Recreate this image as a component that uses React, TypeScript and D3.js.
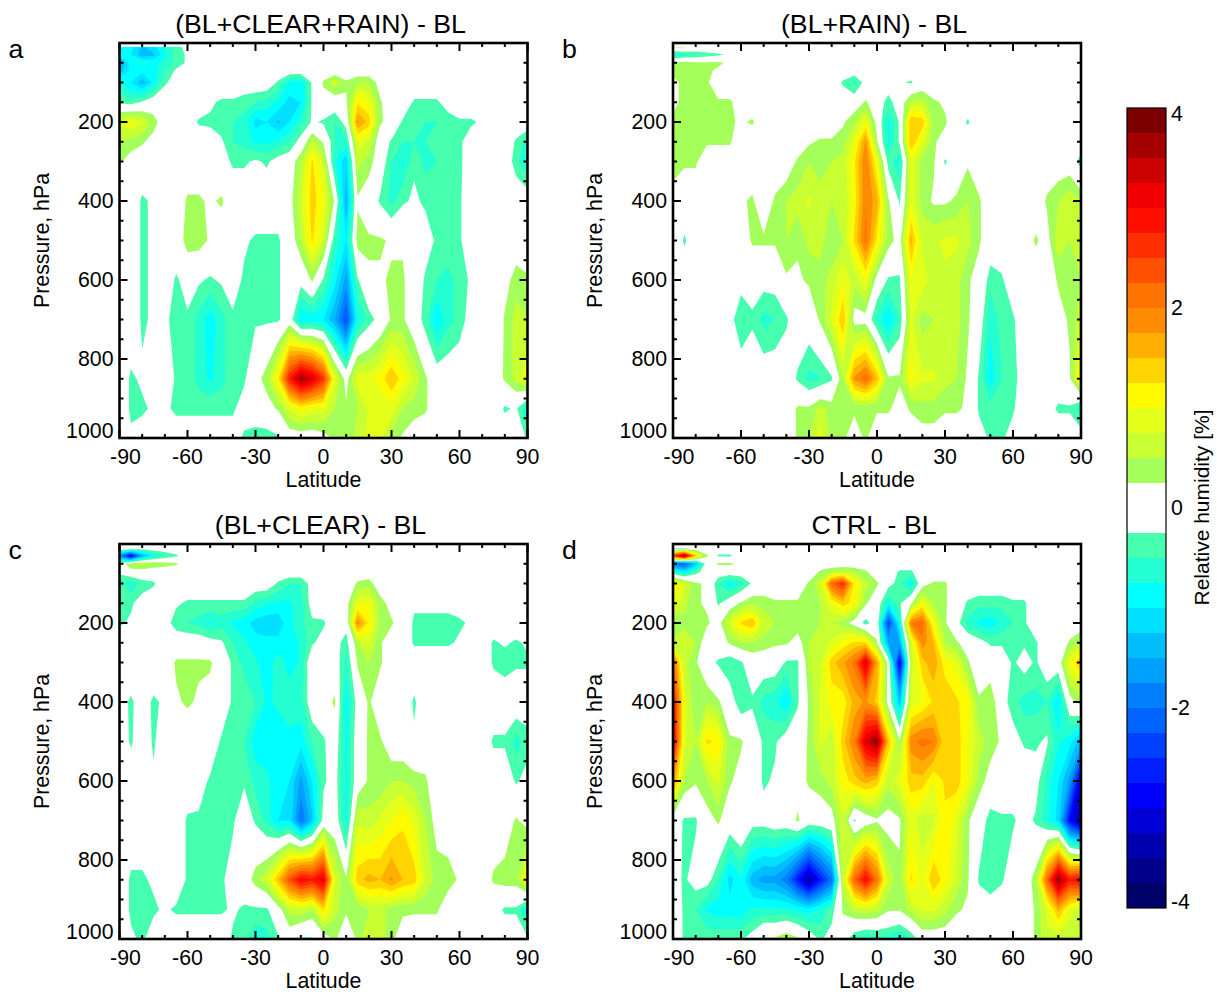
import { contours, geoPath, geoTransform, range, scaleLinear } from "d3";

// grid of the zonal means: 5 degree columns, standard pressure levels
const latitudes = range(-90, 91, 5);
const pressureLevels = [10, 30, 50, 70, 100, 150, 200, 250, 300, 400, 500, 600, 700, 850, 925, 1000];

// values are tenths of a percent, one row per pressure level
const panelA = [
	[-7,-9,-13,-11,-7,-4, -1,0,0,0,0,0, 0,0,0,0,0,0, 0,0,0,0,0,0, 0,0,0,0,0,0, 0,0,0,0,0,0, 0],
	[-8,-10,-14,-13,-8,-4, -2,0,0,0,0,0, 0,0,0,0,0,0, 0,0,0,0,0,0, 0,0,0,0,0,0, 0,0,0,0,0,0, 0],
	[-17,-8,-7,-8,-7,-4, -2,0,0,0,0,0, 0,0,0,0,0,0, 0,0,0,0,0,0, 0,0,0,0,0,0, 0,0,0,0,0,0, 0],
	[-14,-9,-9,-9,-5,-2, 0,0,0,0,0,0, 0,0,0,0,0,0, 0,0,0,0,0,0, 0,0,0,0,0,0, 0,0,0,0,0,0, 0],
	[-7,-10,-14,-9,-3,-1, 0,0,0,0,0,0, 0,0,-3,-8,-9,-2, 3,7,3,5,5,1, 0,0,0,0,0,0, 0,0,0,0,0,0, 0],
	[-3,-4,-2,0,0,0, 0,0,-2,-3,-3,-4, -5,-6,-8,-11,-10,-2, 1,0,2,12,10,3, 0,0,-3,-3,-3,-1, 0,0,0,0,0,0, 0],
	[8,10,8,4,0,0, 0,-3,-3,-4,-5,-6, -11,-10,-13,-10,-6,-2, -3,-5,-1,18,14,3, 1,-3,-4,-5,-5,-4, -3,-3,-2,0,0,0, 0],
	[5,4,3,1,0,0, 0,0,-1,-2,-5,-6, -8,-8,-7,-5,-1,6, 2,-5,-6,9,7,0, -3,-5,-5,-5,-4,-3, -3,-1,0,0,0,-3, -6],
	[3,1,0,0,0,0, 0,0,0,-1,-3,-3, -2,-3,-1,0,5,13, 7,-7,-12,6,4,0, -5,-8,-3,-6,-5,-3, -3,-1,0,0,0,-4, -8],
	[0,0,-3,-2,0,0, 3,3,2,3,0,0, 0,0,0,1,7,14, 10,2,-15,2,0,-3, -6,-3,-2,-3,-3,-3, -3,0,0,2,0,0, 0],
	[3,0,-3,-2,0,0, 4,4,2,0,0,-2, -3,-3,-3,0,5,13, 7,-5,-10,4,3,3, 2,2,0,-1,-3,-3, -3,0,0,0,0,0, 0],
	[0,0,-3,-2,0,-3, -1,-2,-3,-2,-1,-3, -3,-3,-3,0,-1,3, -3,-9,-16,-3,2,2, 3,3,0,-3,-5,-6, -4,-2,0,0,1,4, 3],
	[0,0,-3,-2,-1,-5, -3,-6,-9,-6,-3,-3, -3,-3,-3,0,-10,-9, -10,-15,-23,-8,-4,-1, 3,3,0,-4,-10,-6, -4,-1,0,-2,3,6, 5],
	[0,-3,-2,0,0,-3, -3,-6,-8,-6,-3,-3, 1,4,12,28,37,33, 26,9,1,9,9,11, 15,11,7,3,0,0, 0,0,0,0,3,6, 10],
	[0,-3,-3,-2,-2,-3, -3,-3,-3,-3,-3,-1, 0,1,3,8,11,9, 9,5,3,5,8,8, 9,5,4,3,0,0, 0,0,0,0,-3,-2, -8],
	[0,-2,-1,0,-1,-1, -1,-1,-1,-1,-1,-3, -4,-4,-3,0,0,0, 1,3,3,6,8,8, 4,2,0,0,0,0, 0,0,0,0,0,0, -3],
];

const panelB = [
	[3,3,1,1,0,0, 0,0,0,0,0,0, 0,0,0,0,0,0, 0,0,0,0,0,0, 0,0,0,0,0,0, 0,0,0,0,0,0, 0],
	[-8,-6,-5,-4,-3,-2, 0,0,0,0,0,0, 0,0,0,0,0,0, 0,0,0,0,0,0, 0,0,0,0,0,0, 0,0,0,0,0,0, 0],
	[3,4,3,3,3,2, 0,0,0,0,0,0, 0,0,0,0,0,0, 0,0,0,0,0,0, 0,0,0,0,0,0, 0,0,0,0,0,0, 0],
	[3,5,3,3,2,0, 0,0,0,0,0,0, 0,0,0,0,0,0, 0,0,0,0,0,0, 0,0,0,0,0,0, 0,0,0,0,0,0, 0],
	[2,3,3,3,0,0, 0,0,0,0,0,0, 0,0,0,-3,-6,-1, 0,0,-2,-3,0,0, 0,0,0,0,0,0, 0,0,0,0,0,0, 0],
	[2,3,3,3,3,3, 1,0,0,0,0,0, 0,0,0,0,0,3, 0,-4,0,6,6,3, 2,0,0,0,0,0, 0,0,0,0,0,0, 0],
	[3,3,3,3,3,3, 2,3,0,0,0,0, 0,0,0,2,5,10, 1,-8,-2,15,14,4, 3,0,-3,0,0,0, 0,0,0,0,0,0, 0],
	[3,3,3,3,3,3, 0,0,0,0,0,0, 2,3,3,4,9,18, 3,-8,-2,15,9,3, 1,0,0,0,0,0, 0,0,0,0,0,0, 0],
	[5,3,3,0,0,0, 0,0,0,0,0,3, 5,4,5,6,12,20, 10,-4,-7,9,4,3, -3,0,2,0,0,0, 0,0,0,0,0,0, -4],
	[0,0,0,0,0,2, 2,3,0,3,5,6, 8,6,5,5,11,20, 16,3,-3,9,4,2, 2,3,5,3,0,0, 0,0,0,3,5,7, 5],
	[1,-3,0,0,0,0, 0,3,3,3,5,3, 6,6,3,5,13,21, 12,4,1,16,7,7, 8,8,6,3,0,0, 0,0,3,1,7,5, 5],
	[0,0,0,0,0,0, -1,-1,-1,-1,2,2, 3,4,6,10,6,10, 1,-3,-3,10,9,6, 7,6,3,1,-4,-3, 0,0,0,0,3,3, 5],
	[0,0,0,0,0,-1, -5,-3,-6,-5,-3,0, 0,3,8,15,1,1, -6,-10,-5,8,4,5, 7,6,3,0,-7,-4, -3,0,0,0,1,3, 7],
	[0,0,0,0,0,0, 0,0,0,0,0,-3, -6,-5,-3,5,18,22, 15,3,3,11,8,8, 6,5,2,-3,-9,-5, -4,0,0,0,0,2, 13],
	[0,0,0,0,0,0, 0,0,0,0,0,3, 3,6,4,4,3,3, 3,3,1,3,4,4, 3,3,2,-3,-4,-4, -3,0,0,-1,-3,-3, -7],
	[0,0,0,0,0,0, 0,0,0,0,0,3, 5,9,4,3,1,3, 0,0,0,0,1,1, 0,0,0,-1,-3,-3, -1,0,0,0,0,0, 0],
];

const panelC = [
	[3,3,0,0,0,0, 0,0,0,0,0,0, 0,0,0,0,0,0, 0,0,0,0,0,0, 0,0,0,0,0,0, 0,0,0,0,0,0, 0],
	[-18,-30,-15,-8,-5,-3, 0,0,0,0,0,0, 0,0,0,0,0,0, 0,0,0,0,0,0, 0,0,0,0,0,0, 0,0,0,0,0,0, 0],
	[0,5,6,5,4,3, 0,0,0,0,0,0, 0,0,0,0,0,0, 0,0,0,0,0,0, 0,0,0,0,0,0, 0,0,0,0,0,0, 0],
	[-2,1,1,0,0,0, 0,0,0,0,0,0, 0,0,0,0,0,0, 0,0,0,0,0,0, 0,0,0,0,0,0, 0,0,0,0,0,0, 0],
	[-4,-7,-4,-3,0,0, 0,0,0,0,0,0, 0,0,-3,-5,-5,-1, 0,0,0,3,4,0, 0,0,0,0,0,0, 0,0,0,0,0,0, 0],
	[-3,-3,-1,0,0,-2, -3,-3,-3,-3,-3,-3, -6,-7,-8,-8,-6,-1, 0,0,1,9,10,4, 1,0,-2,-2,-2,-2, -1,0,0,0,0,0, 0],
	[-3,-2,0,0,-1,-4, -5,-6,-8,-6,-8,-9, -11,-12,-12,-8,-6,-3, -3,0,-1,19,12,4, 3,0,-3,-3,-3,-3, -3,-2,0,0,0,0, 0],
	[0,0,0,0,0,0, 0,0,-1,-2,-5,-7, -9,-9,-9,-9,-7,-3, -1,-1,-4,5,8,3, 0,0,-3,-3,-3,-3, -2,0,0,-3,-2,-3, -2],
	[0,0,0,0,0,3, 3,3,3,0,-3,-6, -7,-9,-6,-9,-7,1, 0,0,-6,3,5,3, 0,0,0,0,0,0, 0,0,0,-3,-4,-3, -3],
	[-1,-3,-1,-3,-2,2, 3,2,1,0,-3,-3, -5,-8,-7,-5,-6,0, 1,3,-9,-1,3,0, 0,0,-3,0,0,0, 0,0,0,0,0,0, 0],
	[0,-3,0,-3,0,0, 0,0,0,-3,-3,-5, -9,-9,-9,-9,-9,-5, -3,0,-8,0,3,3, 0,0,-2,0,0,0, 0,0,0,-3,-3,-6, -4],
	[0,0,0,-2,0,0, 0,-1,-3,-3,-3,-3, -6,-7,-9,-10,-16,-10, -3,-1,-8,0,3,3, 5,5,4,3,0,0, 0,0,0,0,0,-3, -1],
	[0,0,0,0,0,0, -3,-3,-3,-3,-3,0, -3,-6,-10,-10,-20,-13, -1,0,-8,7,6,8, 10,12,9,5,1,0, 0,0,0,0,0,3, 1],
	[0,-3,-3,-2,0,0, -3,-3,-5,-3,-1,0, 4,7,15,24,30,28, 32,8,3,14,16,15, 18,15,14,7,4,4, 2,0,0,3,4,4, 12],
	[0,-3,-3,-3,-2,-3, -3,-3,-3,-3,-2,-3, -3,-3,1,6,7,5, 13,6,3,3,5,6, 4,3,3,3,3,0, 0,0,0,-1,-3,-3, -9],
	[0,-2,-3,-1,0,0, 0,0,0,0,-3,-4, -7,-6,-3,0,-3,-3, 0,3,0,3,8,7, 3,1,0,0,0,0, 0,0,0,0,0,0, -2],
];

const panelD = [
	[-6,-5,-2,0,0,0, 0,0,0,0,0,0, 0,0,0,0,0,0, 0,0,0,0,0,0, 0,0,0,0,0,0, 0,0,0,0,0,0, 0],
	[25,38,15,3,-3,-3, -1,0,0,0,0,0, 0,0,0,0,0,0, 0,0,0,0,0,0, 0,0,0,0,0,0, 0,0,0,0,0,0, 0],
	[-20,-22,-14,0,3,3, 2,0,0,0,0,0, 0,0,0,0,0,0, 0,0,0,0,0,0, 0,0,0,0,0,0, 0,0,0,0,0,0, 0],
	[-6,-10,-4,0,0,0, 0,0,0,0,0,0, 0,3,5,6,5,3, 0,0,-3,-3,0,0, 0,0,0,0,0,0, 0,0,0,0,0,0, 0],
	[12,8,3,2,-5,-9, -6,-2,0,0,0,0, 3,7,22,27,12,6, 3,-1,-4,-9,1,3, 3,0,0,0,0,0, 0,0,0,0,0,0, 0],
	[10,6,3,2,-3,0, 3,5,4,3,3,3, 3,5,10,14,11,3, 0,-8,-3,2,10,5, 3,0,-3,-4,-4,-4, -3,-3,0,0,0,0, 0],
	[2,4,3,3,1,8, 13,15,7,5,5,4, 3,5,5,4,1,-4, 0,-24,-8,20,22,10, 3,-1,-6,-8,-9,-7, -5,-3,0,0,0,0, 0],
	[6,8,5,0,0,3, 5,5,4,3,3,1, 5,6,8,11,13,13, 3,-15,-15,8,19,15, 5,3,1,-1,-3,-3, -3,-3,-3,0,0,3, 6],
	[22,6,3,-1,-3,-5, -3,0,0,0,-3,-3, 5,7,14,17,21,33, 17,1,-30,6,14,17, 11,9,3,0,0,0, -3,-1,-3,0,0,10, 15],
	[30,9,3,5,3,0, -5,-3,-6,-7,-10,-3, 3,8,11,11,16,18, 14,1,-13,8,10,13, 15,13,11,3,5,-1, -4,-6,-6,-5,-10,1, 4],
	[32,8,5,13,12,3, 3,0,-3,-3,0,0, 3,8,6,14,20,33, 38,15,3,19,21,20, 13,14,10,6,4,2, -1,-3,-3,-2,-7,-9, -14],
	[18,5,3,5,8,3, 1,0,-3,-2,1,1, 3,4,6,11,14,16, 14,6,9,14,14,10, 13,14,10,4,1,0, 0,0,-1,-6,-10,-16, -32],
	[0,-3,-3,1,3,0, 2,-1,-1,0,0,3, 0,0,1,7,-3,0, 2,1,2,9,6,7, 12,9,3,0,-4,-3, -3,-1,-3,-7,-11,-28, -35],
	[-1,-3,-1,-1,-5,-11, -8,-14,-16,-16,-19,-27, -35,-27,-20,7,22,30, 21,7,3,13,9,15, 11,7,3,-3,-5,-3, 0,0,4,22,38,28, 30],
	[0,-3,-5,-8,-9,-9, -9,-7,-7,-7,-7,-8, -9,-7,-4,3,6,7, 6,3,3,6,8,8, 6,3,2,0,0,0, 0,0,3,8,16,9, 6],
	[0,-3,-3,-3,-3,-3, -3,-1,3,3,5,3, 0,-3,-1,0,-5,-7, -6,-6,-8,-5,0,0, 0,0,0,-2,0,0, 0,0,3,7,6,5, 5],
];

const panelTitles = ["(BL+CLEAR+RAIN) - BL", "(BL+RAIN) - BL", "(BL+CLEAR) - BL", "CTRL - BL"];
const panelLetters = ["a", "b", "c", "d"];
const panelGrids = [panelA, panelB, panelC, panelD];

const latTicks = [-90, -60, -30, 0, 30, 60, 90];
const latMinorTicks = range(-90, 91, 10);
const pressureTicks = [200, 400, 600, 800, 1000];
const pressureMinorTicks = range(0, 1001, 50);
const colorbarTicks = [4, 2, 0, -2, -4];

// colour bands going away from zero, each 0.25 % wide
const warmBands = ["#a5ff5a", "#c8ff32", "#e4ff19", "#fffa00", "#ffd400", "#ffaf00", "#ff8c00", "#ff7300", "#ff5000", "#ff2d00", "#ff0f00", "#f00000", "#cd0000", "#a50000", "#7d0000"];
const coldBands = ["#46ffaf", "#23ffd2", "#00ffff", "#00e1ff", "#00beff", "#00a0ff", "#0080ff", "#0064ff", "#0041ff", "#001eff", "#0000ff", "#0000d7", "#0000af", "#00008c", "#000069"];

const font = "'Liberation Sans', Arial, sans-serif";
const panelW = 408;
const panelH = 395;
const rows = pressureLevels.length;
const cols = latitudes.length;
const thresholds = warmBands.map((_, i) => 2.5 + i * 2.5);

const latOfCol = scaleLinear().domain(range(cols)).range(latitudes).clamp(true);
const levelOfRow = scaleLinear().domain(range(rows)).range(pressureLevels).clamp(true);

function Panel({ index, left, top }: { index: number; left: number; top: number }) {
	let x = scaleLinear().domain([-90, 90]).range([left, left + panelW]);
	let y = scaleLinear().domain([0, 1000]).range([top, top + panelH]);

	// contour points are in cell units with cell centres at +0.5
	let path = geoPath(
		geoTransform({
			point(px: number, py: number) {
				this.stream.point(x(latOfCol(px - 0.5)), y(levelOfRow(py - 0.5)));
			},
		}),
	);

	let flat = panelGrids[index].flat();
	let gen = contours().size([cols, rows]).thresholds(thresholds);
	let warm = gen(flat);
	let cold = gen(flat.map((v) => -v));
	let bottom = top + panelH;
	let right = left + panelW;

	return (
		<g>
			{warm.map((c, i) => (
				<path key={"w" + i} d={path(c) || ""} fill={warmBands[i]} />
			))}
			{cold.map((c, i) => (
				<path key={"c" + i} d={path(c) || ""} fill={coldBands[i]} />
			))}

			<g stroke="#000" strokeWidth={2}>
				{latMinorTicks.map((t) => (
					<g key={t}>
						<line x1={x(t)} x2={x(t)} y1={bottom} y2={bottom - (latTicks.includes(t) ? 8 : 4)} />
						<line x1={x(t)} x2={x(t)} y1={top} y2={top + (latTicks.includes(t) ? 8 : 4)} />
					</g>
				))}
				{pressureMinorTicks.map((t) => (
					<g key={t}>
						<line x1={left} x2={left + (pressureTicks.includes(t) ? 8 : 4)} y1={y(t)} y2={y(t)} />
						<line x1={right} x2={right - (pressureTicks.includes(t) ? 8 : 4)} y1={y(t)} y2={y(t)} />
					</g>
				))}
			</g>
			<rect x={left} y={top} width={panelW} height={panelH} fill="none" stroke="#000" strokeWidth={2.6} />

			<g fontSize={21.3} textAnchor="middle">
				{latTicks.map((t) => (
					<text key={t} x={x(t) + (t === -90 ? 6 : 0)} y={bottom + 26}>
						{t}
					</text>
				))}
				<text x={(left + right) / 2} y={bottom + 49}>
					Latitude
				</text>
			</g>
			<g fontSize={21.3} textAnchor="end">
				{pressureTicks.map((t) => (
					<text key={t} x={left - 6} y={y(t) + 7 - (t === 1000 ? 7 : 0)}>
						{t}
					</text>
				))}
			</g>
			<text fontSize={21.3} textAnchor="middle" transform={`translate(${left - 71},${y(500)}) rotate(-90)`}>
				Pressure, hPa
			</text>
			<text fontSize={26.7} textAnchor="middle" x={(left + right) / 2 - 3} y={top - 10}>
				{panelTitles[index]}
			</text>
			<text fontSize={26.7} x={left - 111} y={top + 15}>
				{panelLetters[index]}
			</text>
		</g>
	);
}

function Colorbar() {
	let y = scaleLinear().domain([-4, 4]).range([908, 108]);
	let step = 0.25;
	let barX = 1127;
	let barW = 39;
	return (
		<g>
			{warmBands.map((c, i) => (
				<rect key={c} x={barX} width={barW} y={y(step + (i + 1) * step)} height={y(0) - y(step)} fill={c} />
			))}
			{coldBands.map((c, i) => (
				<rect key={c} x={barX} width={barW} y={y(-step - i * step)} height={y(0) - y(step)} fill={c} />
			))}
			<rect x={barX} y={108} width={barW} height={800} fill="none" stroke="#000" strokeWidth={1.2} />
			<g fontSize={21.3}>
				{colorbarTicks.map((t) => (
					<text key={t} x={1171} y={y(t) + 7 + (t === 4 ? 6 : t === -4 ? -6 : 0)}>
						{t}
					</text>
				))}
			</g>
			<text fontSize={21} textAnchor="middle" transform="translate(1209,507.5) rotate(-90)">
				Relative humidity [%]
			</text>
		</g>
	);
}

export default function App() {
	return (
		<svg width={1217} height={992} style={{ position: "absolute", left: 0, top: 0 }} fontFamily={font} fill="#000">
			<rect width={1217} height={992} fill="#fff" />
			<Panel index={0} left={119.5} top={43} />
			<Panel index={1} left={673} top={43} />
			<Panel index={2} left={119.5} top={544} />
			<Panel index={3} left={673} top={544} />
			<Colorbar />
		</svg>
	);
}
